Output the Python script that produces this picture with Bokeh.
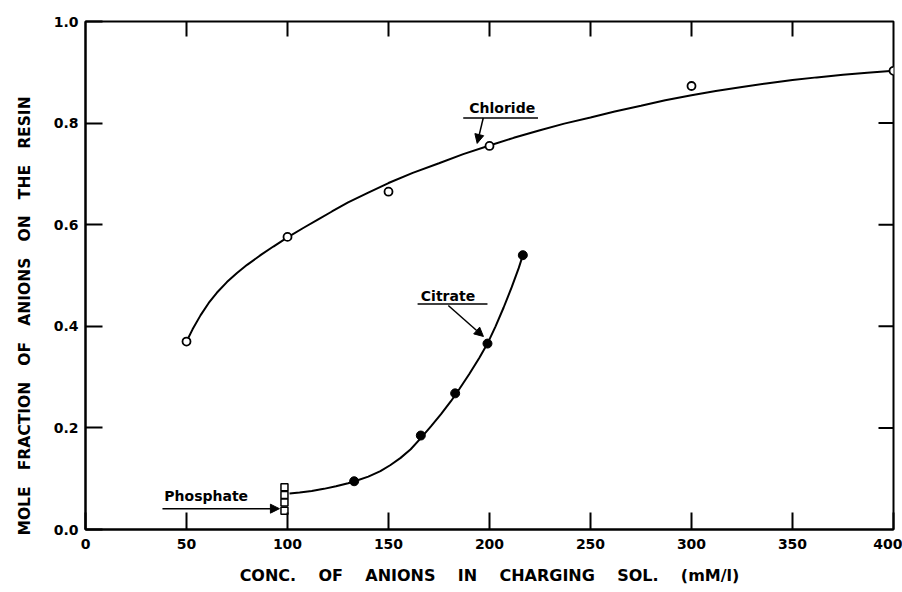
from bokeh.plotting import figure
from bokeh.models import (Range1d, FixedTicker, PrintfTickFormatter,
                          Label, Arrow, NormalHead, Title)
from bokeh.embed import file_html
from bokeh.resources import INLINE

# Measured points
chloride_x = [50, 100, 150, 200, 300, 400]
chloride_y = [0.370, 0.576, 0.665, 0.755, 0.873, 0.903]

citrate_x = [133, 166, 183, 199, 216.5]
citrate_y = [0.095, 0.185, 0.268, 0.366, 0.540]

phosphate_x = [98.5, 98.5, 98.5, 98.5]
phosphate_y = [0.083, 0.068, 0.053, 0.037]

# Hand-drawn fitted curves
chloride_curve_x = [50, 53, 57, 61, 65, 70, 75, 80, 87, 93, 100, 108, 115, 122, 130,
                    140, 150, 162, 175, 187, 200, 212, 225, 237, 250, 262, 275, 287,
                    300, 312, 325, 337, 350, 362, 375, 387, 400]
chloride_curve_y = [0.370, 0.394, 0.422, 0.446, 0.466, 0.487, 0.505, 0.521, 0.541, 0.557,
                    0.575, 0.594, 0.610, 0.626, 0.644, 0.663, 0.682, 0.702, 0.721, 0.739,
                    0.756, 0.771, 0.786, 0.799, 0.811, 0.823, 0.834, 0.845, 0.855, 0.863,
                    0.871, 0.878, 0.885, 0.890, 0.895, 0.899, 0.903]

citrate_curve_x = [101, 106, 112, 118, 124, 130, 134, 140, 146, 151, 156, 161, 166, 171,
                   176, 181, 185, 190, 195, 199, 203, 207, 211, 214.5, 216.5]
citrate_curve_y = [0.071, 0.073, 0.076, 0.080, 0.085, 0.091, 0.096, 0.104, 0.115, 0.127,
                   0.141, 0.158, 0.180, 0.203, 0.227, 0.253, 0.276, 0.306, 0.338, 0.366,
                   0.400, 0.437, 0.477, 0.515, 0.540]

x_ticks = [0, 50, 100, 150, 200, 250, 300, 350, 400]
y_ticks = [0.0, 0.2, 0.4, 0.6, 0.8, 1.0]

FONT = "DejaVu Sans"
NB = "\u00a0"

X_TITLE = (NB * 4).join(["CONC.", "OF", "ANIONS", "IN", "CHARGING", "SOL.", "(mM/l)"])
Y_TITLE = (NB * 3).join(["MOLE", "FRACTION", "OF", "ANIONS", "ON", "THE", "RESIN"])

PX_W, PX_H = 902, 592
LEFT, RIGHT, TOP, BOTTOM = 85, 9, 21, 63

p = figure(width=PX_W, height=PX_H, x_range=Range1d(0, 400), y_range=Range1d(0, 1),
           output_backend="svg", toolbar_location=None,
           min_border_left=LEFT, min_border_right=RIGHT,
           min_border_top=TOP, min_border_bottom=BOTTOM)
p.xgrid.visible = False
p.ygrid.visible = False
p.outline_line_color = "black"
p.outline_line_width = 2
p.background_fill_color = "white"
p.border_fill_color = "white"


def style_axis(ax, ticks):
    ax.ticker = FixedTicker(ticks=ticks)
    ax.major_tick_in = 17
    ax.major_tick_out = 0
    ax.minor_tick_line_color = None
    ax.axis_line_width = 2
    ax.axis_line_color = "black"
    ax.major_tick_line_width = 2
    ax.major_tick_line_color = "black"
    ax.major_label_text_font = FONT
    ax.major_label_text_font_style = "bold"
    ax.major_label_text_font_size = "14px"
    ax.major_label_text_color = "black"


xa = p.xaxis[0]
style_axis(xa, x_ticks)
xa.major_label_standoff = 9
xa.axis_label = X_TITLE
xa.axis_label_text_font = FONT
xa.axis_label_text_font_style = "bold"
xa.axis_label_text_font_size = "16px"
xa.axis_label_text_color = "black"
xa.axis_label_standoff = 14

ya = p.yaxis[0]
style_axis(ya, y_ticks)
ya.formatter = PrintfTickFormatter(format="%.1f")
ya.major_label_standoff = 7

# Inward ticks along the top and right edges of the frame
frame_w = PX_W - LEFT - RIGHT
frame_h = PX_H - TOP - BOTTOM
tick_dx = 15 * 400 / frame_w
tick_dy = 15 * 1.0 / frame_h
inner_x = x_ticks[1:-1]
inner_y = y_ticks[1:-1]
p.segment(x0=inner_x, y0=[1.0] * len(inner_x), x1=inner_x, y1=[1.0 - tick_dy] * len(inner_x),
          line_color="black", line_width=2)
p.segment(x0=[400] * len(inner_y), y0=inner_y, x1=[400 - tick_dx] * len(inner_y), y1=inner_y,
          line_color="black", line_width=2)

# Fitted curves
p.line(chloride_curve_x, chloride_curve_y, line_color="black", line_width=2)
p.line(citrate_curve_x, citrate_curve_y, line_color="black", line_width=2)

# Data markers
p.scatter(chloride_x, chloride_y, marker="circle", size=8, fill_color="white",
          line_color="black", line_width=1.8)
p.scatter(citrate_x, citrate_y, marker="circle", size=9, fill_color="black",
          line_color="black")
p.scatter(phosphate_x, phosphate_y, marker="square", size=7, fill_color="white",
          line_color="black", line_width=1.5)


# Series labels with underline and arrow
def tag(text, tx, ty, ax0, ay0, ax1, ay1, underline=None):
    p.add_layout(Label(x=tx, y=ty, text=text, text_font=FONT, text_font_style="bold",
                       text_font_size="14px", text_baseline="middle", text_align="left",
                       text_color="black"))
    if underline:
        ux0, ux1, uy = underline
        p.segment(x0=[ux0], y0=[uy], x1=[ux1], y1=[uy], line_color="black", line_width=1.5)
    p.add_layout(Arrow(x_start=ax0, y_start=ay0, x_end=ax1, y_end=ay1, line_width=1.5,
                       line_color="black",
                       end=NormalHead(size=9, fill_color="black", line_color="black")))


tag("Chloride", 190.0, 0.830, 196.9, 0.810, 193.9, 0.760, underline=(187, 224, 0.810))
tag("Citrate", 166.0, 0.460, 179.6, 0.441, 197.0, 0.380, underline=(164.4, 199, 0.444))
tag("Phosphate", 39.0, 0.065, 38.1, 0.041, 96.0, 0.041)

# Y axis title
p.add_layout(Title(text=Y_TITLE, align="left", vertical_align="top", offset=-6, standoff=30,
                   text_font=FONT, text_font_style="bold", text_font_size="15.5px",
                   text_color="black"), "left")

open("out.html", "w").write(file_html(p, INLINE))
